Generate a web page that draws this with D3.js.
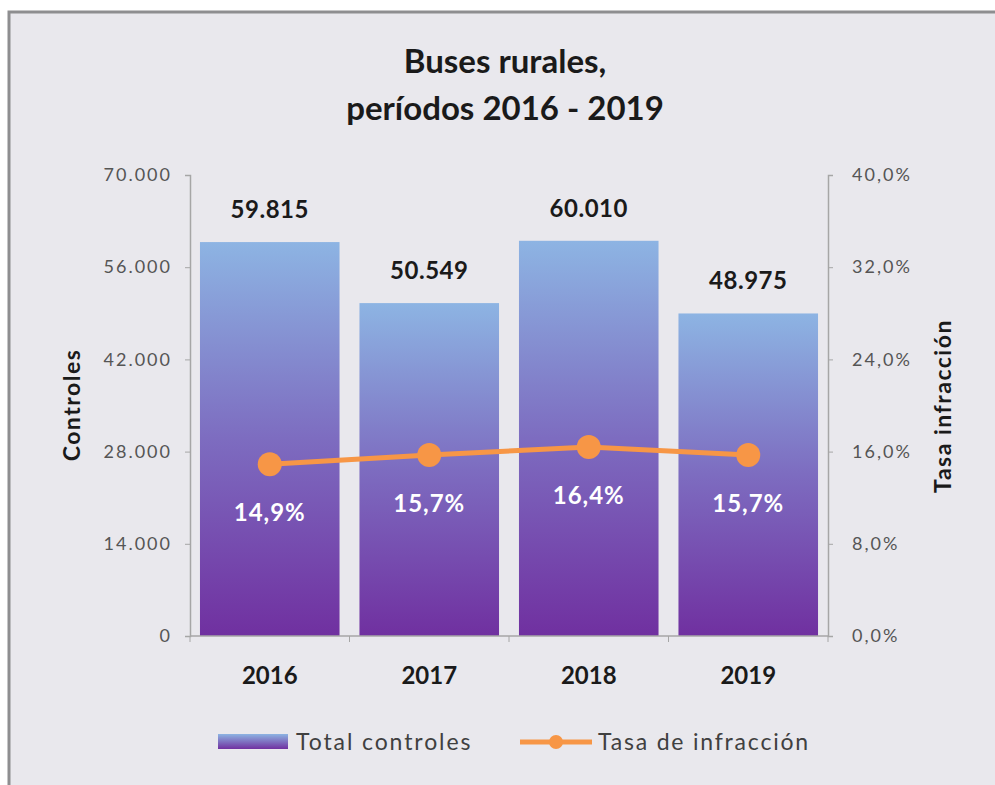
<!DOCTYPE html>
<html>
<head>
<meta charset="utf-8">
<script src="https://cdn.jsdelivr.net/npm/d3@7"></script>
<style>
  html, body { margin: 0; padding: 0; background: #ffffff; }
  svg { display: block; }
</style>
</head>
<body>
<svg id="chart" width="995" height="785"></svg>
<script>
const years = ["2016", "2017", "2018", "2019"];
const controles = [59815, 50549, 60010, 48975];
const tasa = [14.9, 15.7, 16.4, 15.7];
const leftTicks = [0, 14000, 28000, 42000, 56000, 70000];
const rightTicks = [0, 8, 16, 24, 32, 40];
const titleLines = ["Buses rurales,", "períodos 2016 - 2019"];
const legendLabels = ["Total controles", "Tasa de infracción"];

const locale = d3.formatLocale({ decimal: ",", thousands: ".", grouping: [3], currency: ["", ""] });
const fmtInt = locale.format(",");
const fmtPct = v => locale.format(".1f")(v) + "%";

const FONT = "Lato, 'Open Sans', sans-serif";
const svg = d3.select("#chart");

// frame
svg.append("rect").attr("x", 9).attr("y", 12).attr("width", 1000).attr("height", 800)
  .attr("fill", "#e9e8ed").attr("stroke", "#8e8e90").attr("stroke-width", 3);

const defs = svg.append("defs");
const grad = defs.append("linearGradient").attr("id", "barGrad")
  .attr("x1", 0).attr("y1", 0).attr("x2", 0).attr("y2", 1);
grad.append("stop").attr("offset", "0%").attr("stop-color", "#8db4e3");
grad.append("stop").attr("offset", "50%").attr("stop-color", "#7d6cc0");
grad.append("stop").attr("offset", "100%").attr("stop-color", "#7030a0");

const m = { left: 190, right: 828, top: 175, bottom: 636 };

const x = d3.scaleBand().domain(years).range([m.left, m.right]).paddingInner(0.125).paddingOuter(0.0625);
const yL = d3.scaleLinear().domain([0, 70000]).range([m.bottom, m.top]);
const yR = d3.scaleLinear().domain([0, 40]).range([m.bottom, m.top]);

// title
svg.append("g").selectAll("text").data(titleLines).join("text")
  .attr("x", 505).attr("y", (d, i) => 73 + i * 47)
  .attr("text-anchor", "middle").attr("font-family", FONT)
  .attr("font-weight", "bold").attr("font-size", 33).attr("fill", "#1a1a1a")
  .text(d => d);

// bars
svg.append("g").selectAll("rect").data(controles).join("rect")
  .attr("x", (d, i) => x(years[i])).attr("width", x.bandwidth())
  .attr("y", d => yL(d)).attr("height", d => yL(0) - yL(d))
  .attr("fill", "url(#barGrad)");

// bar labels
svg.append("g").selectAll("text").data(controles).join("text")
  .attr("x", (d, i) => x(years[i]) + x.bandwidth() / 2)
  .attr("y", d => yL(d) - 24)
  .attr("text-anchor", "middle").attr("font-family", FONT)
  .attr("font-weight", "bold").attr("font-size", 24).attr("letter-spacing", 0.5).attr("fill", "#1a1a1a")
  .text(d => fmtInt(d));

// left axis
const axL = svg.append("g").attr("transform", `translate(${m.left},0)`)
  .call(d3.axisLeft(yL).tickValues(leftTicks).tickFormat(fmtInt).tickSize(5).tickPadding(13));
axL.select(".domain").attr("stroke", "#a6a6a6").attr("stroke-width", 1.5);
axL.selectAll(".tick line").attr("stroke", "#a6a6a6");
axL.selectAll(".tick text").attr("font-family", FONT).attr("font-size", 18)
  .attr("letter-spacing", 2).attr("fill", "#555");

// right axis
const axR = svg.append("g").attr("transform", `translate(${m.right},0)`)
  .call(d3.axisRight(yR).tickValues(rightTicks).tickFormat(fmtPct).tickSize(5).tickPadding(19));
axR.select(".domain").attr("stroke", "#a6a6a6").attr("stroke-width", 1.5);
axR.selectAll(".tick line").attr("stroke", "#a6a6a6");
axR.selectAll(".tick text").attr("font-family", FONT).attr("font-size", 18)
  .attr("letter-spacing", 2).attr("fill", "#555");

// bottom axis
const xEdges = years.map(y => x(y) - x.step() * x.paddingInner() / 2).concat([m.right]);
const axB = svg.append("g");
axB.append("line").attr("x1", m.left).attr("x2", m.right).attr("y1", m.bottom).attr("y2", m.bottom)
  .attr("stroke", "#a6a6a6").attr("stroke-width", 1.5);
axB.selectAll("line.tk").data(xEdges).join("line").attr("class", "tk")
  .attr("x1", d => d).attr("x2", d => d).attr("y1", m.bottom).attr("y2", m.bottom + 6)
  .attr("stroke", "#a6a6a6");
axB.selectAll("text").data(years).join("text")
  .attr("x", d => x(d) + x.bandwidth() / 2).attr("y", 684)
  .attr("text-anchor", "middle").attr("font-family", FONT)
  .attr("font-weight", "bold").attr("font-size", 24).attr("fill", "#1a1a1a")
  .text(d => d);

// axis titles
svg.append("text").attr("transform", "translate(80,405) rotate(-90)")
  .attr("text-anchor", "middle").attr("font-family", FONT).attr("font-weight", "bold")
  .attr("font-size", 23).attr("letter-spacing", 1.5).attr("fill", "#1a1a1a").text("Controles");
svg.append("text").attr("transform", "translate(951,406) rotate(-90)")
  .attr("text-anchor", "middle").attr("font-family", FONT).attr("font-weight", "bold")
  .attr("font-size", 23).attr("letter-spacing", 1.5).attr("fill", "#1a1a1a").text("Tasa infracción");

// line
const cx = (d, i) => x(years[i]) + x.bandwidth() / 2;
const line = d3.line().x(cx).y(d => yR(d));
svg.append("path").datum(tasa).attr("d", line)
  .attr("fill", "none").attr("stroke", "#f79646").attr("stroke-width", 5);
svg.append("g").selectAll("circle").data(tasa).join("circle")
  .attr("cx", cx).attr("cy", d => yR(d)).attr("r", 12).attr("fill", "#f79646");
svg.append("g").selectAll("text").data(tasa).join("text")
  .attr("x", cx).attr("y", d => yR(d) + 57)
  .attr("text-anchor", "middle").attr("font-family", FONT)
  .attr("font-weight", "bold").attr("font-size", 24).attr("letter-spacing", 1).attr("fill", "#ffffff")
  .text(d => fmtPct(d));

// legend
const lg = svg.append("g");
const lgGrad = defs.append("linearGradient").attr("id", "lgGrad")
  .attr("x1", 0).attr("y1", 0).attr("x2", 0).attr("y2", 1);
lgGrad.append("stop").attr("offset", "0%").attr("stop-color", "#8db4e3");
lgGrad.append("stop").attr("offset", "100%").attr("stop-color", "#7030a0");
lg.append("rect").attr("x", 218).attr("y", 734).attr("width", 70).attr("height", 15).attr("fill", "url(#lgGrad)");
lg.append("text").attr("x", 296).attr("y", 750).attr("font-family", FONT)
  .attr("font-size", 23).attr("letter-spacing", 1.9).attr("fill", "#404040").text(legendLabels[0]);
lg.append("line").attr("x1", 520).attr("x2", 592).attr("y1", 742).attr("y2", 742)
  .attr("stroke", "#f79646").attr("stroke-width", 5);
lg.append("circle").attr("cx", 556).attr("cy", 742).attr("r", 7).attr("fill", "#f79646");
lg.append("text").attr("x", 598).attr("y", 750).attr("font-family", FONT)
  .attr("font-size", 23).attr("letter-spacing", 1.8).attr("fill", "#404040").text(legendLabels[1]);
</script>
</body>
</html>
